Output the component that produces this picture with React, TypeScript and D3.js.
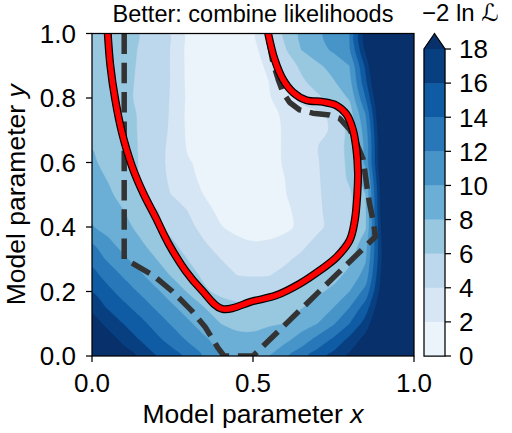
import React from 'react';
import * as d3 from 'd3';

// ---- data ----
const GRID_X = [0, 0.05, 0.1, 0.15, 0.2, 0.25, 0.3, 0.35, 0.4, 0.45, 0.5, 0.55, 0.6, 0.65, 0.7, 0.75, 0.8, 0.85, 0.9, 0.95, 1.0];
const GRID_Y = [0, 0.05, 0.1, 0.15, 0.2, 0.25, 0.3, 0.35, 0.4, 0.45, 0.5, 0.55, 0.6, 0.65, 0.7, 0.75, 0.8, 0.85, 0.9, 0.95, 1.0];

// -2 ln L estimated on the grid, one row per GRID_Y value (bottom to top)
const NLL_ROWS: number[][] = [
  [22.5, 20.6, 19.0, 17.6, 16.0, 14.8, 13.4, 11.7, 10.0, 9.35, 9.4, 10.0, 11.6, 13.3, 15.0, 16.7, 18.4, 20.5, 22, 23, 24],
  [20.8, 19.0, 17.4, 15.9, 14.5, 13.2, 11.7, 10.3, 9.2, 8.5, 8.4, 8.9, 9.5, 10.9, 12.7, 14.4, 16.6, 18.8, 21.5, 23, 24],
  [19.0, 17.4, 15.9, 14.6, 13.2, 11.7, 10.3, 9.1, 8.0, 7.6, 7.6, 7.8, 8.0, 9.0, 10.0, 11.8, 14.0, 16.9, 21, 23, 24.5],
  [17.3, 15.8, 14.5, 13.2, 11.7, 10.3, 9.1, 8.0, 7.0, 6.5, 6.4, 6.7, 7.3, 7.9, 8.8, 10.0, 12.0, 15.0, 20, 23, 25],
  [15.9, 14.5, 13.1, 11.7, 10.3, 9.0, 7.8, 6.3, 5.5, 5.1, 5.0, 5.2, 6.0, 6.8, 7.6, 8.5, 10.0, 12.7, 19, 23.5, 25.5],
  [14.7, 13.2, 11.7, 10.3, 9.0, 7.8, 6.7, 5.6, 4.7, 4.0, 3.9, 3.95, 4.5, 5.4, 6.4, 7.3, 8.6, 10.8, 18.5, 24, 26],
  [13.2, 11.7, 10.3, 9.1, 8.0, 7.0, 5.9, 4.9, 4.0, 3.45, 3.2, 3.3, 3.7, 4.4, 5.3, 6.2, 7.5, 9.8, 18.0, 24, 26.5],
  [11.9, 10.4, 9.2, 8.2, 7.2, 6.2, 5.1, 4.1, 3.1, 2.5, 2.1, 2.2, 2.6, 3.5, 4.5, 5.3, 6.6, 9.0, 18.0, 24.5, 27],
  [10.1, 9.3, 8.5, 7.5, 6.4, 5.4, 4.5, 3.3, 2.1, 1.4, 1.2, 1.3, 1.6, 2.4, 3.6, 4.6, 5.6, 7.8, 18.5, 25, 28],
  [9.5, 8.8, 8.0, 7.0, 6.1, 5.1, 3.9, 2.6, 1.5, 1.0, 0.95, 1.2, 1.6, 2.6, 3.7, 4.6, 5.6, 7.8, 19, 25, 28],
  [9.0, 8.3, 7.4, 5.95, 5.0, 3.9, 3.0, 1.9, 1.3, 0.9, 0.9, 1.2, 1.9, 2.9, 3.8, 4.6, 5.7, 8.0, 19, 25, 28],
  [8.6, 7.9, 7.1, 5.85, 4.9, 3.5, 2.4, 1.6, 1.0, 0.8, 0.85, 1.2, 2.0, 3.0, 3.85, 4.65, 6.3, 9.0, 19.5, 25, 28],
  [8.2, 7.6, 6.9, 5.85, 4.8, 3.3, 2.15, 1.4, 0.9, 0.8, 0.9, 1.3, 2.2, 3.1, 3.9, 4.7, 6.5, 10.5, 20, 25, 28],
  [7.95, 7.3, 6.7, 5.85, 4.8, 3.4, 1.7, 1.3, 0.85, 0.8, 0.95, 1.4, 2.2, 3.0, 3.95, 4.8, 6.6, 10.5, 20, 25, 28],
  [7.45, 7.0, 6.55, 5.85, 4.9, 3.6, 1.5, 1.25, 0.85, 0.85, 1.0, 1.4, 2.2, 2.8, 3.4, 4.3, 6.6, 11.0, 20.5, 25, 28],
  [7.3, 6.9, 6.45, 5.85, 4.9, 3.7, 1.4, 1.2, 0.85, 0.9, 1.1, 1.5, 2.3, 3.0, 3.5, 4.6, 7.0, 12.0, 21, 25, 28],
  [7.2, 6.7, 6.3, 5.75, 4.95, 3.75, 1.5, 1.1, 0.9, 1.0, 1.25, 1.8, 3.2, 4.6, 5.6, 6.6, 8.2, 14.0, 21.5, 25, 28],
  [7.25, 6.75, 6.3, 5.8, 5.0, 3.8, 1.4, 1.15, 0.95, 1.1, 1.35, 2.0, 3.9, 5.6, 6.8, 7.8, 9.3, 15.5, 22.5, 25.5, 28],
  [7.3, 6.8, 6.35, 5.85, 5.0, 3.8, 1.35, 1.2, 1.0, 1.2, 1.45, 2.3, 4.8, 6.4, 7.6, 8.8, 10.0, 16.5, 23.5, 26, 28],
  [7.35, 6.85, 6.4, 5.9, 5.0, 3.8, 1.3, 1.25, 1.1, 1.3, 1.55, 2.9, 5.8, 8.0, 9.2, 10.3, 11.8, 18.4, 24.5, 26.5, 28],
  [7.4, 6.9, 6.45, 5.95, 5.0, 3.8, 1.3, 1.3, 1.2, 1.4, 1.7, 3.6, 6.5, 8.4, 9.6, 10.8, 12.0, 19.2, 25, 26.5, 28],
];

const LEVELS = [0, 2, 4, 6, 8, 10, 12, 14, 16, 18];
const X_TICKS = [0, 0.5, 1.0];
const Y_TICKS = [0, 0.2, 0.4, 0.6, 0.8, 1.0];

// red contour (combined likelihood)
const RED_X = [0.049, 0.057, 0.072, 0.093, 0.124, 0.160, 0.197, 0.238, 0.29, 0.342, 0.404, 0.5, 0.572, 0.645, 0.707, 0.759, 0.80, 0.816, 0.824, 0.826, 0.821, 0.81, 0.79, 0.759, 0.717, 0.666, 0.624, 0.593, 0.567, 0.547];
const RED_Y = [1.0, 0.9, 0.796, 0.693, 0.589, 0.503, 0.431, 0.348, 0.265, 0.203, 0.146, 0.17, 0.188, 0.224, 0.265, 0.306, 0.358, 0.42, 0.503, 0.568, 0.641, 0.703, 0.75, 0.777, 0.788, 0.793, 0.818, 0.858, 0.92, 1.0];

// dashed region outline
const DASH_X = [0.1, 0.1, 0.13, 0.19, 0.25, 0.31, 0.352, 0.39, 0.41, 0.5, 0.88, 0.875, 0.862, 0.857, 0.842, 0.821, 0.80, 0.769, 0.738, 0.686, 0.645, 0.614, 0.593, 0.578, 0.562, 0.552, 0.547];
const DASH_Y = [1.0, 0.3, 0.285, 0.25, 0.2, 0.14, 0.089, 0.027, 0.0, 0.0, 0.37, 0.41, 0.472, 0.503, 0.61, 0.661, 0.703, 0.737, 0.747, 0.753, 0.763, 0.786, 0.817, 0.858, 0.91, 0.962, 1.0];

const BLUES = ['#f7fbff', '#deebf7', '#c6dbef', '#9ecae1', '#6baed6', '#4292c6', '#2171b5', '#08519c', '#08306b'];
const OVER_COLOR = '#08306b';

const FONT = "'Liberation Sans', Arial, Helvetica, sans-serif";

export default function App() {
  const W = 512, H = 433;
  const L = 92, R = 414, T = 33.5, B = 356;
  const x = d3.scaleLinear().domain([0, 1]).range([L, R]);
  const y = d3.scaleLinear().domain([0, 1]).range([B, T]);

  const blues = d3.scaleLinear<string>()
    .domain(BLUES.map((_, i) => i / (BLUES.length - 1)))
    .range(BLUES)
    .interpolate(d3.interpolateRgb);
  const lo = LEVELS[0], hi = LEVELS[LEVELS.length - 1];
  const bandColor = (k: number) => blues(((LEVELS[k] + LEVELS[k + 1]) / 2 - lo) / (hi - lo));

  const nx = GRID_X.length, ny = GRID_Y.length;
  const values = NLL_ROWS.flat();
  const contours = d3.contours().size([nx, ny]).thresholds(LEVELS.slice(1))(values);
  const gx = d3.scaleLinear().domain([0.5, nx - 0.5]).range([x(GRID_X[0]), x(GRID_X[nx - 1])]);
  const gy = d3.scaleLinear().domain([0.5, ny - 0.5]).range([y(GRID_Y[0]), y(GRID_Y[ny - 1])]);
  const ringLine = d3.line<number[]>()
    .x(p => gx(p[0])).y(p => gy(p[1]))
    .curve(d3.curveCatmullRomClosed.alpha(0.5));
  const mpPath = (mp: any) =>
    mp.coordinates.map((poly: number[][][]) => poly.map(ring => ringLine(ring.slice(0, -1))).join('')).join('');

  const fillFor = (i: number) => (i + 1 < LEVELS.length - 1 ? bandColor(i + 1) : OVER_COLOR);

  const redPts = RED_X.map((v, i) => [x(v), y(RED_Y[i])] as [number, number]);
  const dashPts = DASH_X.map((v, i) => [x(v), y(DASH_Y[i])] as [number, number]);
  const redPath = d3.line().curve(d3.curveCatmullRom.alpha(0.5))(redPts) || '';
  const dashPath = d3.line()(dashPts) || '';

  // colorbar
  const cbL = 424, cbR = 445, cbTip = 33.5;
  const cb = d3.scaleLinear().domain([lo, hi]).range([B, 49]);

  const tickFs = 26;
  const capOff = tickFs * 0.716 / 2;

  return (
    <div>
      <style>{`body{margin:0}`}</style>
      <svg width={W} height={H} style={{ display: 'block', background: '#fff' }} fontFamily={FONT}>
        <defs>
          <clipPath id="plotclip">
            <rect x={L} y={T} width={R - L} height={B - T} />
          </clipPath>
        </defs>
        <g clipPath="url(#plotclip)">
          <rect x={L} y={T} width={R - L} height={B - T} fill={bandColor(0)} />
          {contours.map((c, i) => (
            <path key={i} d={mpPath(c)} fill={fillFor(i)} fillRule="evenodd" stroke={fillFor(i)} strokeWidth={0.3} />
          ))}
          <path d={dashPath} fill="none" stroke="#333333" strokeWidth={5.5} strokeDasharray="20.5 8.8" strokeLinejoin="round" />
          <path d={redPath} fill="none" stroke="#000" strokeWidth={8} strokeLinejoin="round" />
          <path d={redPath} fill="none" stroke="#ff0000" strokeWidth={5.5} strokeLinejoin="round" />
        </g>
        <rect x={L} y={T} width={R - L} height={B - T} fill="none" stroke="#000" strokeWidth={1.25} />

        {/* x axis */}
        {X_TICKS.map(t => (
          <g key={'x' + t}>
            <line x1={x(t)} x2={x(t)} y1={B} y2={B + 6} stroke="#000" strokeWidth={1.25} />
            <text x={x(t)} y={B + 36} textAnchor="middle" fontSize={tickFs}>{t.toFixed(1)}</text>
          </g>
        ))}
        <text x={(L + R) / 2} y={423} textAnchor="middle" fontSize={26.5}>
          Model parameter <tspan fontStyle="italic">x</tspan>
        </text>

        {/* y axis */}
        {Y_TICKS.map(t => (
          <g key={'y' + t}>
            <line x1={L - 6} x2={L} y1={y(t)} y2={y(t)} stroke="#000" strokeWidth={1.25} />
            <text x={76} y={y(t) + capOff} textAnchor="end" fontSize={tickFs}>{t.toFixed(1)}</text>
          </g>
        ))}
        <text transform={`translate(25, ${(T + B) / 2}) rotate(-90)`} textAnchor="middle" fontSize={26.5}>
          Model parameter <tspan fontStyle="italic">y</tspan>
        </text>

        {/* title */}
        <text x={(L + R) / 2} y={22} textAnchor="middle" fontSize={23.5}>Better: combine likelihoods</text>

        {/* colorbar */}
        {LEVELS.slice(0, -1).map((lv, k) => (
          <rect key={'cb' + k} x={cbL} y={cb(LEVELS[k + 1])} width={cbR - cbL} height={cb(lv) - cb(LEVELS[k + 1])}
            fill={bandColor(k)} stroke={bandColor(k)} strokeWidth={0.3} />
        ))}
        <polygon points={`${cbL},${cb(hi)} ${cbR},${cb(hi)} ${(cbL + cbR) / 2},${cbTip}`} fill={OVER_COLOR} />
        <path d={`M${cbL},${B} L${cbL},${cb(hi)} L${(cbL + cbR) / 2},${cbTip} L${cbR},${cb(hi)} L${cbR},${B} Z`}
          fill="none" stroke="#000" strokeWidth={1.25} strokeLinejoin="miter" />
        {LEVELS.map(lv => (
          <g key={'cbt' + lv}>
            <line x1={cbR} x2={cbR + 6} y1={cb(lv)} y2={cb(lv)} stroke="#000" strokeWidth={1.25} />
            <text x={cbR + 14} y={cb(lv) + capOff} fontSize={tickFs}>{lv}</text>
          </g>
        ))}
        <text x={422} y={21} fontSize={24}>
          −2 ln <tspan fontFamily="'DejaVu Sans'" fontStyle="italic">ℒ</tspan>
        </text>
      </svg>
    </div>
  );
}
